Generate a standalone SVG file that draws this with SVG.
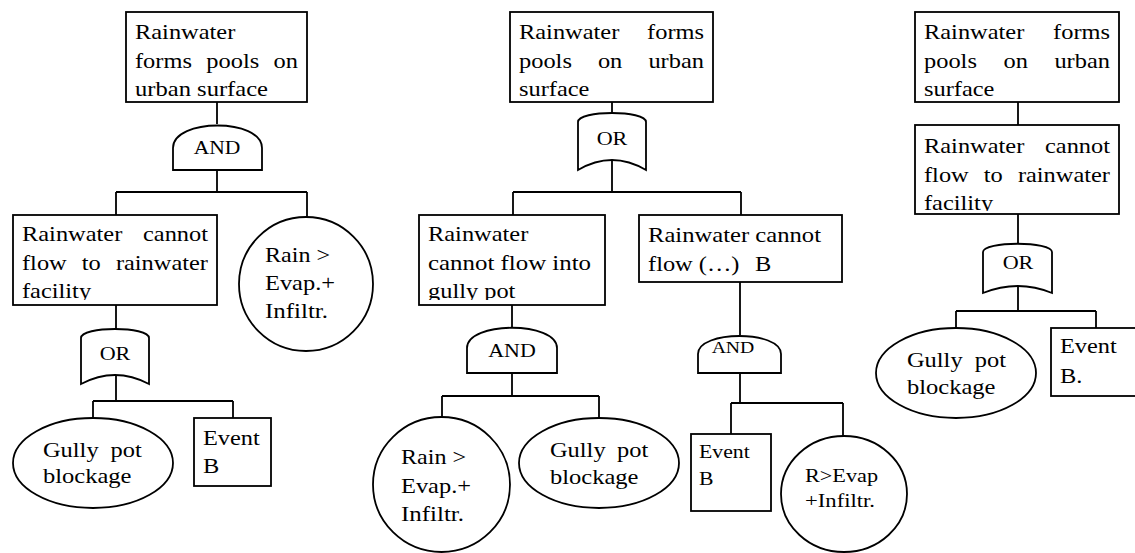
<svg xmlns="http://www.w3.org/2000/svg" width="1135" height="553" viewBox="0 0 1135 553">
<style>
  .box{fill:#fff;stroke:#000;stroke-width:1.8}
  .gate{fill:#fff;stroke:#000;stroke-width:1.8}
  .ln{fill:none;stroke:#000;stroke-width:1.8}
  text{font-family:'Liberation Serif','Times New Roman','Liberation Sans',serif;fill:#000}
  .t{font-size:21px}
  .g{font-size:19.5px;text-anchor:middle}
  .s{font-size:18.5px}
</style>
<defs>
  <clipPath id="c1"><rect x="13" y="215" width="204" height="85"/></clipPath>
  <clipPath id="c2"><rect x="419" y="215" width="186" height="85"/></clipPath>
  <clipPath id="c3"><rect x="915" y="125" width="204" height="86"/></clipPath>
</defs>
<rect width="1135" height="553" fill="#fff"/>

<g id="connectors">
  <path class="ln" d="M217,102V124 M217,170V192 M116,192H307 M116,192V215 M307,192V217"/>
  <path class="ln" d="M116,305V329 M116,376V401 M93,401H233 M93,401V418 M233,401V418"/>
  <path class="ln" d="M612,102V115 M612,160V192 M513,192H741 M513,192V215 M741,192V215"/>
  <path class="ln" d="M512,305V328 M512,373V396 M442,396H599 M442,396V417 M599,396V418"/>
  <path class="ln" d="M740,282V335 M740,373V403 M731,403H843 M731,403V434 M843,403V436"/>
  <path class="ln" d="M1018,102V125 M1018,214V244 M1018,286V311 M956,311H1096 M956,311V328 M1096,311V328"/>
</g>

<!-- Tree 1 -->
<g id="top1">
  <rect class="box" x="126" y="12" width="181" height="90"/>
  <text class="t" x="135" y="39" textLength="100.3" lengthAdjust="spacingAndGlyphs">Rainwater</text>
  <text class="t" x="135" y="67.5" textLength="56.9" lengthAdjust="spacingAndGlyphs">forms</text>
  <text class="t" x="206.3" y="67.5" textLength="52.9" lengthAdjust="spacingAndGlyphs">pools</text>
  <text class="t" x="273.6" y="67.5" textLength="24.4" lengthAdjust="spacingAndGlyphs">on</text>
  <text class="t" x="135" y="96" textLength="133" lengthAdjust="spacingAndGlyphs">urban surface</text>
</g>
<g id="and1">
  <path class="gate" d="M173,170V148C173,118 262,118 262,148V170Z"/>
  <text class="g" x="217" y="154" textLength="46.7" lengthAdjust="spacingAndGlyphs">AND</text>
</g>
<g id="box1b">
  <rect class="box" x="13" y="215" width="204" height="90"/>
  <g clip-path="url(#c1)">
    <text class="t" x="22" y="241" textLength="100.3" lengthAdjust="spacingAndGlyphs">Rainwater</text>
    <text class="t" x="143" y="241" textLength="65" lengthAdjust="spacingAndGlyphs">cannot</text>
    <text class="t" x="22" y="270" textLength="44.7" lengthAdjust="spacingAndGlyphs">flow</text>
    <text class="t" x="81.8" y="270" textLength="19" lengthAdjust="spacingAndGlyphs">to</text>
    <text class="t" x="115.9" y="270" textLength="92.1" lengthAdjust="spacingAndGlyphs">rainwater</text>
    <text class="t" x="22" y="298" textLength="69.1" lengthAdjust="spacingAndGlyphs">facility</text>
  </g>
</g>
<g id="rain1">
  <circle class="box" cx="306" cy="284" r="67"/>
  <text class="t" x="265" y="262" textLength="65" lengthAdjust="spacingAndGlyphs">Rain &gt;</text>
  <text class="t" x="265" y="290" textLength="70" lengthAdjust="spacingAndGlyphs">Evap.+</text>
  <text class="t" x="265" y="318" textLength="63" lengthAdjust="spacingAndGlyphs">Infiltr.</text>
</g>
<g id="or1">
  <path class="gate" d="M81,384V338C81,326 149,326 149,338V384Q115,366 81,384Z"/>
  <text class="g" x="115" y="360" textLength="30.7" lengthAdjust="spacingAndGlyphs">OR</text>
</g>
<g id="gully1">
  <ellipse class="box" cx="93" cy="463" rx="80" ry="45"/>
  <text class="t" x="43" y="457" textLength="55.6" lengthAdjust="spacingAndGlyphs">Gully</text>
  <text class="t" x="110.5" y="457" textLength="31.2" lengthAdjust="spacingAndGlyphs">pot</text>
  <text class="t" x="43" y="483" textLength="88.5" lengthAdjust="spacingAndGlyphs">blockage</text>
</g>
<g id="event1">
  <rect class="box" x="194" y="418" width="77" height="68"/>
  <text class="t" x="203" y="445" textLength="56.8" lengthAdjust="spacingAndGlyphs">Event</text>
  <text class="t" x="203" y="473" textLength="16.3" lengthAdjust="spacingAndGlyphs">B</text>
</g>

<!-- Tree 2 -->
<g id="top2">
  <rect class="box" x="510" y="12" width="203" height="90"/>
  <text class="t" x="519" y="39" textLength="100.3" lengthAdjust="spacingAndGlyphs">Rainwater</text>
  <text class="t" x="647.1" y="39" textLength="56.9" lengthAdjust="spacingAndGlyphs">forms</text>
  <text class="t" x="519" y="67.5" textLength="52.9" lengthAdjust="spacingAndGlyphs">pools</text>
  <text class="t" x="597.9" y="67.5" textLength="24.4" lengthAdjust="spacingAndGlyphs">on</text>
  <text class="t" x="648.4" y="67.5" textLength="55.6" lengthAdjust="spacingAndGlyphs">urban</text>
  <text class="t" x="519" y="96" textLength="70.4" lengthAdjust="spacingAndGlyphs">surface</text>
</g>
<g id="or2">
  <path class="gate" d="M578,170V122C578,110 646,110 646,122V170Q612,150 578,170Z"/>
  <text class="g" x="612" y="145" textLength="30.7" lengthAdjust="spacingAndGlyphs">OR</text>
</g>
<g id="box2a">
  <rect class="box" x="419" y="215" width="186" height="90"/>
  <g clip-path="url(#c2)">
    <text class="t" x="428" y="241" textLength="100.3" lengthAdjust="spacingAndGlyphs">Rainwater</text>
    <text class="t" x="428" y="270" textLength="163" lengthAdjust="spacingAndGlyphs">cannot flow into</text>
    <text class="t" x="428" y="298" textLength="87.4" lengthAdjust="spacingAndGlyphs">gully pot</text>
  </g>
</g>
<g id="box2b">
  <rect class="box" x="639" y="215" width="203" height="67"/>
  <text class="t" x="648" y="242" textLength="173" lengthAdjust="spacingAndGlyphs">Rainwater cannot</text>
  <text class="t" x="648" y="271" textLength="91.5" lengthAdjust="spacingAndGlyphs">flow (…)</text>
  <text class="t" x="755" y="271" textLength="16.3" lengthAdjust="spacingAndGlyphs">B</text>
</g>
<g id="and2">
  <path class="gate" d="M467,373V348C467,321 557,321 557,348V373Z"/>
  <text class="g" x="512" y="357" textLength="47.5" lengthAdjust="spacingAndGlyphs">AND</text>
</g>
<g id="rain2">
  <ellipse class="box" cx="441.5" cy="484.5" rx="68.5" ry="67.5"/>
  <text class="t" x="401" y="464" textLength="65" lengthAdjust="spacingAndGlyphs">Rain &gt;</text>
  <text class="t" x="401" y="493" textLength="70" lengthAdjust="spacingAndGlyphs">Evap.+</text>
  <text class="t" x="401" y="521" textLength="63" lengthAdjust="spacingAndGlyphs">Infiltr.</text>
</g>
<g id="gully2">
  <ellipse class="box" cx="599" cy="463" rx="80" ry="45"/>
  <text class="t" x="550" y="457" textLength="55.6" lengthAdjust="spacingAndGlyphs">Gully</text>
  <text class="t" x="617.1" y="457" textLength="31.2" lengthAdjust="spacingAndGlyphs">pot</text>
  <text class="t" x="550" y="484" textLength="88.5" lengthAdjust="spacingAndGlyphs">blockage</text>
</g>
<g id="and3">
  <path class="gate" d="M698,373V354C698,330 781,330 781,354V373Z"/>
  <text class="g" style="font-size:16.5px" x="733" y="353" textLength="42.7" lengthAdjust="spacingAndGlyphs">AND</text>
</g>
<g id="event2">
  <rect class="box" x="691" y="434" width="80" height="77"/>
  <text class="s" x="699" y="458" textLength="50.8" lengthAdjust="spacingAndGlyphs">Event</text>
  <text class="s" x="699" y="485" textLength="14.5" lengthAdjust="spacingAndGlyphs">B</text>
</g>
<g id="rain3">
  <ellipse class="box" cx="844" cy="494" rx="63" ry="58"/>
  <text class="s" x="805" y="482" textLength="73" lengthAdjust="spacingAndGlyphs">R&gt;Evap</text>
  <text class="s" x="805" y="507" textLength="70" lengthAdjust="spacingAndGlyphs">+Infiltr.</text>
</g>

<!-- Tree 3 -->
<g id="top3">
  <rect class="box" x="915" y="12" width="204" height="90"/>
  <text class="t" x="924" y="39" textLength="100.3" lengthAdjust="spacingAndGlyphs">Rainwater</text>
  <text class="t" x="1053.1" y="39" textLength="56.9" lengthAdjust="spacingAndGlyphs">forms</text>
  <text class="t" x="924" y="67.5" textLength="52.9" lengthAdjust="spacingAndGlyphs">pools</text>
  <text class="t" x="1003.5" y="67.5" textLength="24.4" lengthAdjust="spacingAndGlyphs">on</text>
  <text class="t" x="1054.4" y="67.5" textLength="55.6" lengthAdjust="spacingAndGlyphs">urban</text>
  <text class="t" x="924" y="96" textLength="70.4" lengthAdjust="spacingAndGlyphs">surface</text>
</g>
<g id="box3b">
  <rect class="box" x="915" y="125" width="204" height="89"/>
  <g clip-path="url(#c3)">
    <text class="t" x="924" y="153" textLength="100.3" lengthAdjust="spacingAndGlyphs">Rainwater</text>
    <text class="t" x="1045" y="153" textLength="65" lengthAdjust="spacingAndGlyphs">cannot</text>
    <text class="t" x="924" y="182" textLength="44.7" lengthAdjust="spacingAndGlyphs">flow</text>
    <text class="t" x="983.8" y="182" textLength="19" lengthAdjust="spacingAndGlyphs">to</text>
    <text class="t" x="1017.9" y="182" textLength="92.1" lengthAdjust="spacingAndGlyphs">rainwater</text>
    <text class="t" x="924" y="210" textLength="69.1" lengthAdjust="spacingAndGlyphs">facility</text>
  </g>
</g>
<g id="or3">
  <path class="gate" d="M983,293V252C983,241 1052,241 1052,252V293Q1018,279 983,293Z"/>
  <text class="g" x="1018" y="269" textLength="30.7" lengthAdjust="spacingAndGlyphs">OR</text>
</g>
<g id="gully3">
  <ellipse class="box" cx="956" cy="373" rx="80" ry="45"/>
  <text class="t" x="907" y="367" textLength="55.6" lengthAdjust="spacingAndGlyphs">Gully</text>
  <text class="t" x="974.8" y="367" textLength="31.2" lengthAdjust="spacingAndGlyphs">pot</text>
  <text class="t" x="907" y="394" textLength="88.5" lengthAdjust="spacingAndGlyphs">blockage</text>
</g>
<g id="event3">
  <rect class="box" x="1051" y="328" width="95" height="68"/>
  <text class="t" x="1060" y="353" textLength="56.8" lengthAdjust="spacingAndGlyphs">Event</text>
  <text class="t" x="1060" y="383" textLength="22.4" lengthAdjust="spacingAndGlyphs">B.</text>
</g>
</svg>
